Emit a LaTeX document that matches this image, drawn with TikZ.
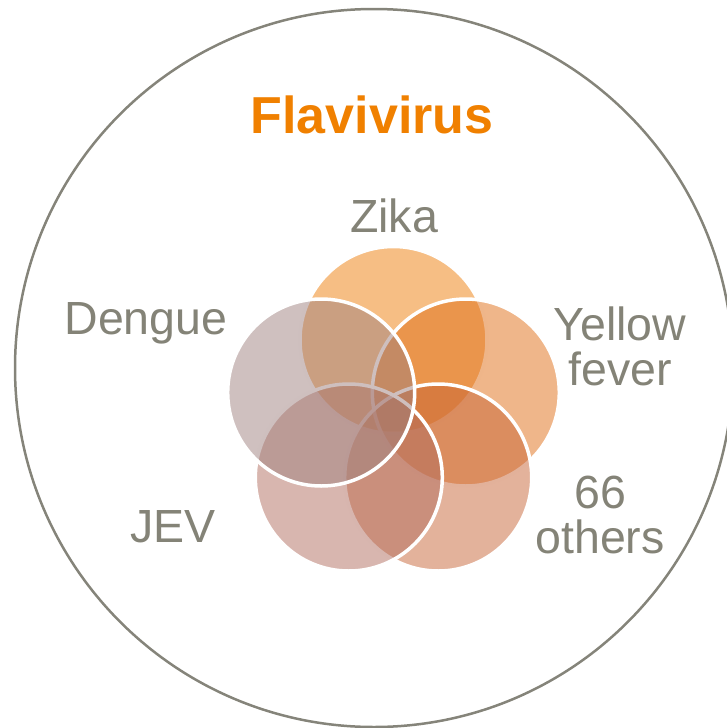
\documentclass[tikz,border=0pt]{standalone}
\usepackage{fontspec}
\setmainfont{Liberation Sans}
\definecolor{ringgray}{RGB}{133,132,122}
\definecolor{labelgray}{RGB}{132,131,119}
\definecolor{titleorange}{RGB}{240,128,0}
\definecolor{czika}{RGB}{237,125,9}
\definecolor{cyf}{RGB}{223,109,21}
\definecolor{cothers}{RGB}{199,101,55}
\definecolor{cjev}{RGB}{177,109,95}
\definecolor{cdengue}{RGB}{159,129,127}
\tikzset{
  venn/.style={circle, minimum size=187pt, inner sep=0pt, fill opacity=0.5, draw=white, draw opacity=1, line width=3.5pt},
  lbl/.style={text=labelgray, font=\fontsize{46.5}{45}\selectfont, align=center, inner sep=0pt, anchor=base},
}
\begin{document}
\begin{tikzpicture}[x=1pt,y=-1pt]
\useasboundingbox (0,0) rectangle (726,728);
\node[circle, draw=ringgray, line width=2.5pt, minimum size=718pt, inner sep=0pt] (outer) at (374,368) {};
\node[text=titleorange, font=\fontsize{52}{60}\selectfont\bfseries, inner sep=0pt, anchor=base] (title) at (372,133) {Flavivirus};
\node[venn, fill=czika] (zika) at (393.5,340) {};
\node[venn, fill=cyf] (yf) at (465.8,392.5) {};
\node[venn, fill=cothers] (others) at (438.2,477.5) {};
\node[venn, fill=cjev] (jev) at (348.8,477.5) {};
\node[venn, fill=cdengue] (dengue) at (321.2,392.5) {};
\node[lbl] (lzika) at (394,232) {Zika};
\node[lbl] (ldengue) at (146,334) {Dengue};
\node[lbl] (lyf) at (620,385) {Yellow\\fever};
\node[lbl] (lothers) at (600,553) {66\\others};
\node[lbl] (ljev) at (173,542) {JEV};
\end{tikzpicture}
\end{document}
